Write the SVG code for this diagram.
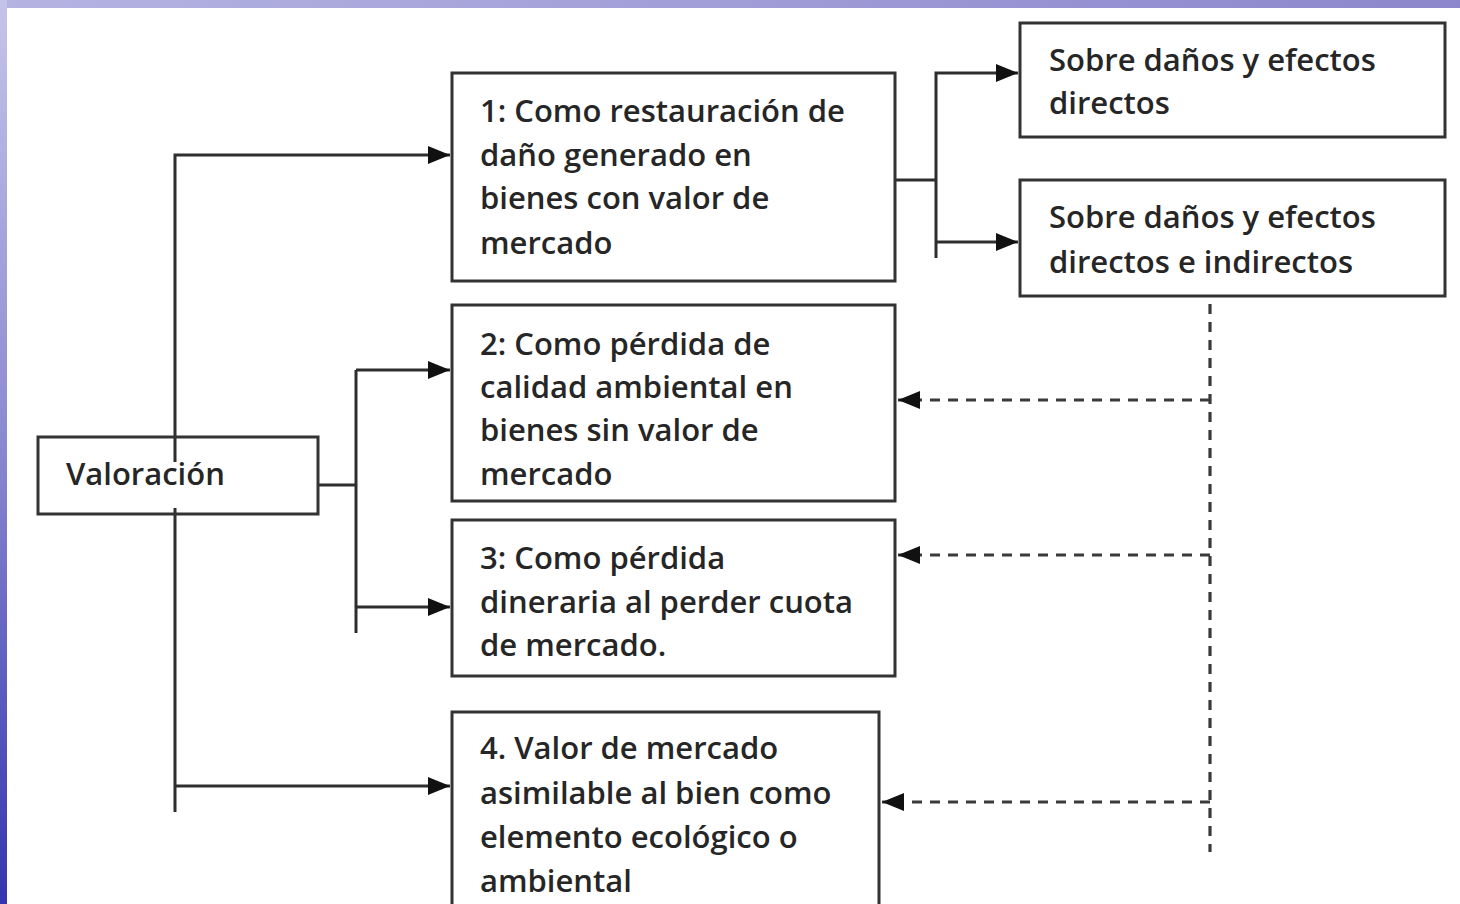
<svg xmlns="http://www.w3.org/2000/svg" width="1460" height="904" viewBox="0 0 1460 904">
  <defs>
    <linearGradient id="leftBand" x1="0" y1="0" x2="0" y2="1">
      <stop offset="0" stop-color="#c4c4ea"/>
      <stop offset="0.5" stop-color="#8888d0"/>
      <stop offset="1" stop-color="#3434b0"/>
    </linearGradient>
    <linearGradient id="topBand" x1="0" y1="0" x2="1" y2="0">
      <stop offset="0" stop-color="#b4b4e2"/>
      <stop offset="1" stop-color="#8c86cc"/>
    </linearGradient>
    <marker id="arr" viewBox="0 0 22 18" refX="22" refY="9" markerWidth="22" markerHeight="18" markerUnits="userSpaceOnUse" orient="auto">
      <path d="M0,0 L22,9 L0,18 Z" fill="#111"/>
    </marker>
    <style>
      .box { fill: #ffffff; stroke: #333; stroke-width: 3; }
      .t { font-family: "Open Sans", "Liberation Sans", sans-serif; font-size: 31px; font-weight: 600; fill: #262626; }
      .ln { fill: none; stroke: #2e2e2e; stroke-width: 3; }
      .dash { fill: none; stroke: #3a3a3a; stroke-width: 3.2; stroke-dasharray: 10 8; }
    </style>
  </defs>

  <rect x="0" y="0" width="1460" height="904" fill="#ffffff"/>
  <rect x="0" y="0" width="1460" height="8" fill="url(#topBand)"/>
  <rect x="0" y="0" width="7" height="904" fill="url(#leftBand)"/>

  <g id="connectors">
    <path class="ln" d="M175,462 L175,155 L450,155" marker-end="url(#arr)"/>
    <path class="ln" d="M175,508 L175,812"/>
    <path class="ln" d="M175,786 L450,786" marker-end="url(#arr)"/>
    <path class="ln" d="M318,485 L356,485"/>
    <path class="ln" d="M356,370 L356,633"/>
    <path class="ln" d="M356,370 L450,370" marker-end="url(#arr)"/>
    <path class="ln" d="M356,607 L450,607" marker-end="url(#arr)"/>
    <path class="ln" d="M895,180 L936,180"/>
    <path class="ln" d="M936,258 L936,73 L1018,73" marker-end="url(#arr)"/>
    <path class="ln" d="M936,242 L1018,242" marker-end="url(#arr)"/>
    <path class="dash" d="M1210,286 L1210,852"/>
    <path class="dash" d="M1210,400 L898,400" marker-end="url(#arr)"/>
    <path class="dash" d="M1210,555 L898,555" marker-end="url(#arr)"/>
    <path class="dash" d="M1210,802 L882,802" marker-end="url(#arr)"/>
  </g>

  <g id="valoracion">
    <rect class="box" x="38" y="437" width="280" height="77" fill-opacity="0"/>
    <text class="t" x="66" y="485">Valoración</text>
  </g>

  <g id="box1">
    <rect class="box" x="452" y="73" width="443" height="208"/>
    <text class="t" x="480" y="122">1: Como restauración de</text>
    <text class="t" x="480" y="166">daño generado en</text>
    <text class="t" x="480" y="209">bienes con valor de</text>
    <text class="t" x="480" y="254">mercado</text>
  </g>

  <g id="box2">
    <rect class="box" x="452" y="305" width="443" height="196"/>
    <text class="t" x="480" y="355">2: Como pérdida de</text>
    <text class="t" x="480" y="398">calidad ambiental en</text>
    <text class="t" x="480" y="441">bienes sin valor de</text>
    <text class="t" x="480" y="485">mercado</text>
  </g>

  <g id="box3">
    <rect class="box" x="452" y="520" width="443" height="156"/>
    <text class="t" x="480" y="569">3: Como pérdida</text>
    <text class="t" x="480" y="613">dineraria al perder cuota</text>
    <text class="t" x="480" y="656">de mercado.</text>
  </g>

  <g id="box4">
    <rect class="box" x="452" y="712" width="427" height="200"/>
    <text class="t" x="480" y="759">4. Valor de mercado</text>
    <text class="t" x="480" y="804">asimilable al bien como</text>
    <text class="t" x="480" y="848">elemento ecológico o</text>
    <text class="t" x="480" y="892">ambiental</text>
  </g>

  <g id="boxA">
    <rect class="box" x="1020" y="23" width="425" height="114"/>
    <text class="t" x="1049" y="71">Sobre daños y efectos</text>
    <text class="t" x="1049" y="114">directos</text>
  </g>

  <g id="boxB">
    <rect class="box" x="1020" y="180" width="425" height="116"/>
    <text class="t" x="1049" y="228">Sobre daños y efectos</text>
    <text class="t" x="1049" y="273">directos e indirectos</text>
  </g>
</svg>
